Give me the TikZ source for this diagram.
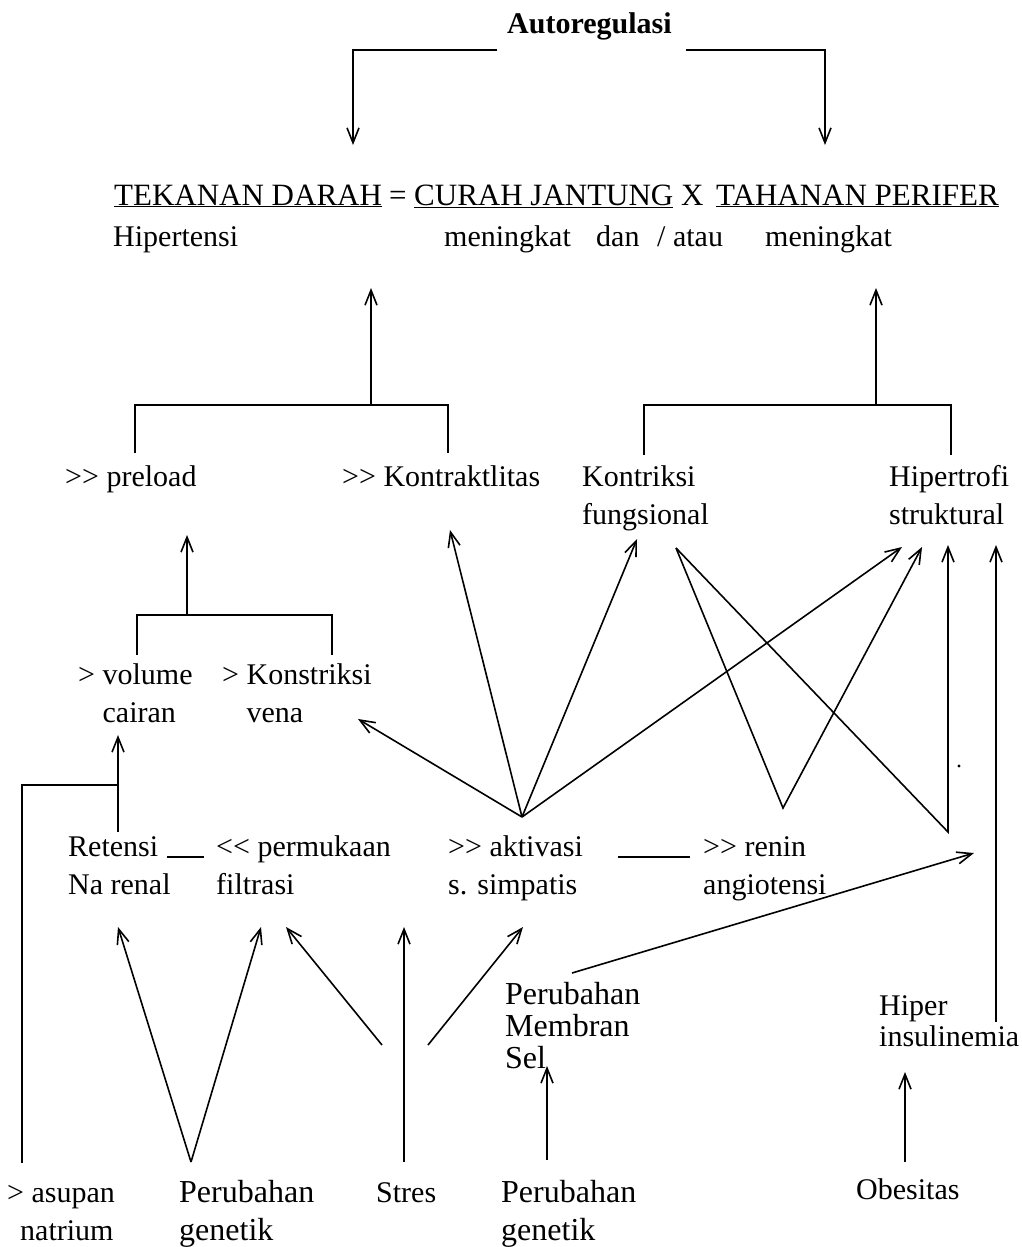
\documentclass[tikz,border=0pt]{standalone}
\usepackage{fontspec}
\setmainfont{Liberation Serif}
\usetikzlibrary{arrows.meta}
\newcommand\myfs{\fontsize{30}{38}\selectfont}
\newcommand\grgr{>{}>}
\newcommand\lsls{<{}<}
\begin{document}
\begin{tikzpicture}[x=1pt,y=-1pt,
  txt/.style={inner sep=0pt,anchor=base west,align=left,font=\myfs},
  eq/.style={txt,font=\fontsize{31}{38}\selectfont},
  big/.style={txt,font=\fontsize{32}{38}\selectfont},
  ln/.style={line width=1.6pt},
  arr/.style={ln,-{Straight Barb[length=15pt,width=12pt]}},
  bar/.style={line width=2.6pt}]
\useasboundingbox[fill=white] (0,0) rectangle (1022,1247);

% ---------- texts (multi-line nodes are placed by their last baseline) ----------
\node[txt,font=\myfs\bfseries] (auto) at (507,34) {Autoregulasi};
\node[eq] (eqL) at (114,205) {\underline{TEKANAN DARAH}};
\node[eq] (eqE) at (389,205) {=};
\node[eq] (eqC) at (414,205) {\underline{CURAH JANTUNG}};
\node[eq] (eqX) at (681,205) {X};
\node[eq] (eqR) at (716,205) {\underline{TAHANAN PERIFER}};
\node[txt] (hip) at (113,246) {Hipertensi};
\node[txt] (mk1) at (444,246) {meningkat};
\node[txt] (dan) at (596,246) {dan};
\node[txt] (atau) at (657,246) {/ atau};
\node[txt] (mk2) at (765,246) {meningkat};

\node[txt] (pre) at (65,486) {\grgr\ preload};
\node[txt] (kontr) at (342,486) {\grgr\ Kontraktlitas};
\node[txt] (fung) at (582,524) {Kontriksi\\fungsional};
\node[txt] (struk) at (889,524) {Hipertrofi\\struktural};

\node[txt] (vol) at (78,722) {> volume\\\phantom{> }cairan};
\node[txt] (vena) at (222,722) {> Konstriksi\\\phantom{> }vena};

\node[txt] (ret) at (68,894) {Retensi\\Na renal};
\node[txt] (perm) at (216,894) {\lsls\ permukaan\\filtrasi};
\node[txt] (akt) at (448,894) {\grgr\ aktivasi\\s. simpatis};
\node[txt] (renin) at (703,894) {\grgr\ renin\\angiotensi};

\node[txt,font=\fontsize{32}{32}\selectfont] (memb) at (505,1068) {Perubahan\\Membran\\Sel};
\node[txt,font=\fontsize{30}{31}\selectfont] (ins) at (879,1046) {Hiper\\insulinemia};

\node[txt] (asup) at (7,1240) {> asupan\\\hspace*{13pt}natrium};
\node[big] (gen1) at (179,1240) {Perubahan\\genetik};
\node[txt] (stres) at (376,1202) {Stres};
\node[big] (gen2) at (501,1240) {Perubahan\\genetik};
\node[txt] (obes) at (856,1199) {Obesitas};

% ---------- coordinates ----------
\coordinate (tTD) at (353,145);
\coordinate (tTP0) at (825,145);
\coordinate (jCJ) at (371,405);  \coordinate (tCJ) at (371,288);
\coordinate (jTP) at (876,405);  \coordinate (tTP) at (876,288);
\coordinate (jPre) at (187,615); \coordinate (tPre) at (187,535);
\coordinate (tVol) at (118,735); \coordinate (sRet) at (118,832);
\coordinate (jAs) at (118,785);  \coordinate (sAs) at (22,1163);
\coordinate (aAk) at (522,817);
\coordinate (tVena) at (358,719);
\coordinate (tKon) at (450,530);
\coordinate (tFung) at (637,539);
\coordinate (tS1) at (902,547);
\coordinate (sF) at (676,548);
\coordinate (aRen) at (783,808);
\coordinate (tS2) at (922,547);
\coordinate (cR) at (948,832);
\coordinate (tS3) at (948,545);
\coordinate (tS4) at (996,545);
\coordinate (sIns) at (996,1022);
\coordinate (sMem) at (572,973);
\coordinate (tMem) at (974,853);
\coordinate (aG1) at (191,1162);
\coordinate (tRet) at (118,927);
\coordinate (tFil) at (261,927);
\coordinate (sSl) at (382,1045);
\coordinate (tPerm) at (286,927);
\coordinate (sSv) at (404,1162);
\coordinate (tSv) at (404,927);
\coordinate (sSr) at (428,1045);
\coordinate (tAkt) at (523,927);
\coordinate (sG2) at (547,1160);
\coordinate (tSel) at (547,1066);
\coordinate (sOb) at (905,1162);
\coordinate (tOb) at (905,1072);
\coordinate (b1a) at (167,857); \coordinate (b1b) at (204,857);
\coordinate (b2a) at (618,857); \coordinate (b2b) at (690,857);

% ---------- connectors ----------
\draw[arr] ([shift={(-10,16)}]auto.base west) -| (tTD);
\draw[arr] ([shift={(14,16)}]auto.base east) -| (tTP0);
\draw[arr] (jCJ) -- (tCJ);
\draw[arr] (jTP) -- (tTP);
\draw[ln] (135,453) |- (448,405) -- (448,453);
\draw[ln] (644,455) |- (951,405) -- (951,455);
\draw[arr] (jPre) -- (tPre);
\draw[ln] (137,655) |- (332,615) -- (332,655);
\draw[arr] (sRet) -- (tVol);
\draw[ln] (sAs) |- (jAs);
\draw[arr] (aAk) -- (tVena);
\draw[arr] (aAk) -- (tKon);
\draw[arr] (aAk) -- (tFung);
\draw[arr] (aAk) -- (tS1);
\draw[arr] (sF) -- (aRen) -- (tS2);
\draw[arr] (sF) -- (cR) -- (tS3);
\draw[arr] (sIns) -- (tS4);
\draw[arr] (sMem) -- (tMem);
\fill (959,766) circle (1.6pt);
\draw[bar] (b1a) -- (b1b);
\draw[bar] (b2a) -- (b2b);
\draw[arr] (aG1) -- (tRet);
\draw[arr] (aG1) -- (tFil);
\draw[arr] (sSl) -- (tPerm);
\draw[arr] (sSv) -- (tSv);
\draw[arr] (sSr) -- (tAkt);
\draw[arr] (sG2) -- (tSel);
\draw[arr] (sOb) -- (tOb);
\end{tikzpicture}
\end{document}
